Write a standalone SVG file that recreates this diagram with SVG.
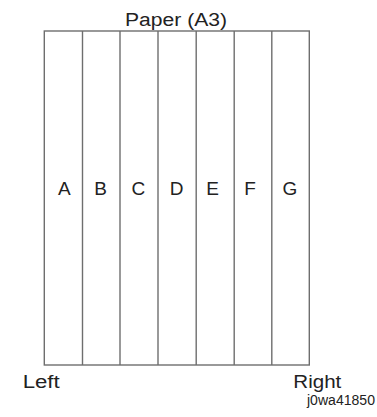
<svg xmlns="http://www.w3.org/2000/svg" width="377" height="417" viewBox="0 0 377 417">
<style>
.t{font-family:"Liberation Sans",Arial,sans-serif;fill:#222;}
.l{stroke:#6e6e6e;stroke-width:1.4;fill:none;}
</style>
<rect width="377" height="417" fill="#fff"/>
<text class="t" x="125" y="26" font-size="18" textLength="102" lengthAdjust="spacingAndGlyphs">Paper (A3)</text>
<g id="paper">
<rect class="l" x="44.3" y="31" width="265" height="334"/>
</g>
<g id="connectors">
<line class="l" x1="82.5" y1="31" x2="82.5" y2="365"/>
<line class="l" x1="120" y1="31" x2="120" y2="365"/>
<line class="l" x1="158" y1="31" x2="158" y2="365"/>
<line class="l" x1="196.2" y1="31" x2="196.2" y2="365"/>
<line class="l" x1="234.2" y1="31" x2="234.2" y2="365"/>
<line class="l" x1="271.8" y1="31" x2="271.8" y2="365"/>
</g>
<g id="labels" class="t" font-size="19" text-anchor="middle">
<text x="64.3" y="195">A</text>
<text x="100.7" y="195">B</text>
<text x="138.3" y="195">C</text>
<text x="176.7" y="195">D</text>
<text x="212.7" y="195">E</text>
<text x="250" y="195">F</text>
<text x="290" y="195">G</text>
</g>
<text class="t" x="22.7" y="388" font-size="18" textLength="37" lengthAdjust="spacingAndGlyphs">Left</text>
<text class="t" x="293.3" y="388" font-size="18" textLength="48" lengthAdjust="spacingAndGlyphs">Right</text>
<text class="t" x="307" y="405" font-size="14" textLength="68" lengthAdjust="spacingAndGlyphs">j0wa41850</text>
</svg>
